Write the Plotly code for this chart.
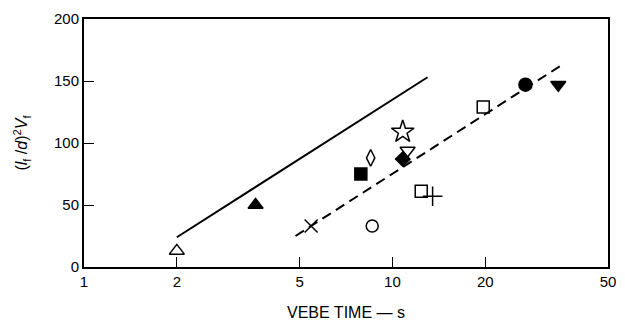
import plotly.graph_objects as go

# Data
vebe_time = [2.0, 3.6, 5.45, 7.9, 8.5, 10.8, 11.2, 10.8, 12.4, 13.5, 8.6, 19.7, 27.0, 34.5]
strength = [13, 50, 33, 75, 88, 109, 94, 87, 61, 57, 33, 129, 147, 147]
symbols = ["triangle-up-open", "triangle-up", "x-thin-open", "square", "diamond-tall-open",
           "star-open", "triangle-down-open", "diamond", "square-open", "cross-thin-open",
           "circle-open", "square-open", "circle", "triangle-down"]
sizes = [13, 13, 13, 12, 12, 17, 13, 11, 12, 14, 12, 12, 13, 13]

solid_x = [2.0, 13.0]
solid_y = [24, 153]
dashed_x = [4.85, 36.0]
dashed_y = [25, 164]

x_ticks = [1, 2, 5, 10, 20, 50]
y_ticks = [0, 50, 100, 150, 200]

fig = go.Figure()
fig.add_trace(go.Scatter(x=solid_x, y=solid_y, mode="lines",
                         line=dict(color="black", width=2), showlegend=False))
fig.add_trace(go.Scatter(x=dashed_x, y=dashed_y, mode="lines",
                         line=dict(color="black", width=2, dash="10px,6px"), showlegend=False))
fig.add_trace(go.Scatter(x=vebe_time, y=strength, mode="markers",
                         marker=dict(symbol=symbols, size=sizes, color="black", opacity=1,
                                     line=dict(color="black", width=1.5)),
                         showlegend=False))

fig.update_layout(
    width=625, height=330,
    margin=dict(l=84, r=9, t=19, b=63),
    paper_bgcolor="white", plot_bgcolor="white",
    font=dict(family="Liberation Sans, Arial, sans-serif", size=15, color="black"),
)
fig.update_xaxes(
    type="log", range=[0, 1.699], tickvals=x_ticks, ticktext=[str(v) for v in x_ticks],
    ticks="inside", ticklen=10, tickcolor="black", tickwidth=1,
    showline=True, linecolor="black", linewidth=2, mirror=True,
    showgrid=False, zeroline=False,
    title=dict(text="VEBE TIME — s", standoff=18, font=dict(size=16)),
)
fig.update_yaxes(
    range=[0, 200], tickvals=y_ticks,
    ticks="inside", ticklen=10, tickcolor="black", tickwidth=1,
    showline=True, linecolor="black", linewidth=2, mirror=True,
    showgrid=False, zeroline=False,
    title=dict(text="(<i>l</i><sub>f</sub> /<i>d</i>)<sup>2</sup><i>V</i><sub>f</sub>",
               standoff=22, font=dict(size=16)),
)

fig.write_html("out.html", config={"displayModeBar": False},
               post_script="document.body.style.margin='0';")
